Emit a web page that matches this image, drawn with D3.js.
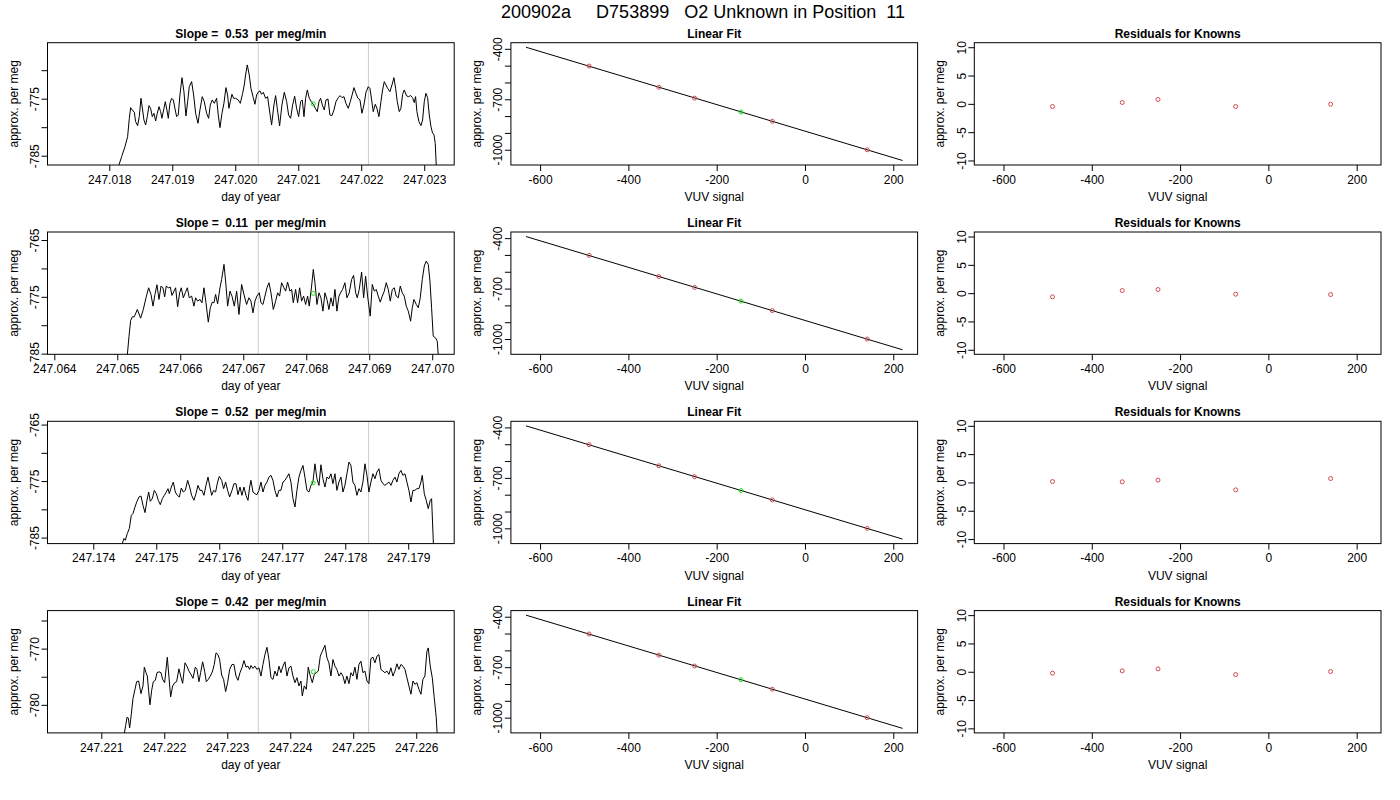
<!DOCTYPE html>
<html lang="en">
<head>
<meta charset="utf-8">
<title>O2 Unknown in Position 11</title>
<script src="https://d3js.org/d3.v7.min.js"></script>
<style>
  body { margin: 0; background: #fff; }
  text { font-family: "Liberation Sans", Arial, Helvetica, sans-serif; white-space: pre; }
</style>
</head>
<body>
<svg id="chart"></svg>
<script>
// ---- data ----
const mainTitle = "200902a     D753899   O2 Unknown in Position  11";
const slopes = ["0.53", "0.11", "0.52", "0.42"];

// left column: approx. per meg against day of year, one trace per row
const trace1 = [[247.018125,-789],[247.018154,-786.6],[247.018196,-785.17],[247.018249,-783.41],[247.018291,-781.66],[247.018318,-778.44],[247.018339,-776.57],[247.018365,-776.98],[247.018397,-777.39],[247.018418,-779.03],[247.018450,-779.73],[247.018476,-778.15],[247.018503,-774.93],[247.018529,-776.98],[247.018550,-778.73],[247.018577,-779.61],[247.018603,-778.15],[247.018630,-776.22],[247.018656,-776.69],[247.018683,-778.15],[247.018709,-777.56],[247.018736,-778.91],[247.018762,-777.56],[247.018789,-776.39],[247.018815,-777.27],[247.018836,-778.44],[247.018868,-776.69],[247.018889,-775.52],[247.018915,-776.98],[247.018937,-778.44],[247.018963,-775.81],[247.018990,-774.93],[247.019016,-775.22],[247.019042,-776.69],[247.019069,-778.15],[247.019095,-777.86],[247.019122,-774.35],[247.019154,-771.31],[247.019185,-773.76],[247.019217,-778.03],[247.019244,-775.52],[247.019270,-772.89],[247.019307,-772.01],[247.019339,-774.35],[247.019371,-777.56],[247.019408,-779.32],[247.019439,-776.98],[247.019476,-774.64],[247.019508,-775.52],[247.019545,-777.56],[247.019577,-778.44],[247.019603,-776.10],[247.019635,-775.22],[247.019667,-775.81],[247.019704,-774.93],[247.019730,-777.86],[247.019757,-780.08],[247.019789,-777.56],[247.019820,-775.81],[247.019852,-773.06],[247.019878,-774.35],[247.019900,-776.69],[247.019921,-775.52],[247.019947,-774.23],[247.019974,-774.93],[247.020005,-774.93],[247.020048,-775.22],[247.020080,-775.81],[247.020117,-774.06],[247.020143,-772.59],[247.020164,-770.84],[247.020191,-769.08],[247.020222,-770.84],[247.020249,-773.18],[247.020286,-774.82],[247.020312,-775.98],[247.020339,-774.35],[247.020371,-773.76],[247.020392,-773.65],[247.020418,-774.23],[247.020445,-773.88],[247.020482,-774.93],[247.020513,-774.64],[247.020550,-777.56],[247.020577,-779.61],[247.020614,-776.10],[247.020641,-774.46],[247.020667,-776.69],[247.020704,-779.79],[247.020741,-776.10],[247.020779,-773.88],[247.020816,-775.52],[247.020847,-777.86],[247.020879,-778.44],[247.020911,-776.10],[247.020943,-774.58],[247.020974,-776.69],[247.021006,-778.15],[247.021038,-775.52],[247.021064,-775.22],[247.021091,-778.15],[247.021117,-774.93],[247.021144,-773.47],[247.021175,-774.93],[247.021207,-775.52],[247.021239,-775.98],[247.021271,-776.69],[247.021302,-777.27],[247.021329,-775.52],[247.021355,-774.93],[247.021382,-776.10],[247.021413,-776.98],[247.021440,-775.22],[247.021472,-775.05],[247.021503,-777.86],[247.021535,-777.97],[247.021567,-776.98],[247.021599,-775.52],[247.021636,-774.82],[247.021662,-774.46],[247.021694,-774.82],[247.021726,-774.64],[247.021757,-775.81],[247.021794,-776.69],[247.021826,-775.52],[247.021858,-774.23],[247.021884,-773.06],[247.021916,-774.06],[247.021948,-774.93],[247.021980,-775.22],[247.022011,-777.56],[247.022043,-776.10],[247.022075,-773.88],[247.022112,-772.89],[247.022138,-773.18],[247.022165,-775.22],[247.022191,-777.27],[247.022223,-775.98],[247.022249,-776.69],[247.022281,-778.15],[247.022313,-775.52],[247.022339,-773.47],[247.022366,-772.01],[247.022392,-772.59],[247.022419,-773.18],[247.022456,-773.76],[247.022488,-772.59],[247.022519,-771.31],[247.022546,-773.18],[247.022572,-775.52],[247.022604,-777.27],[247.022630,-776.69],[247.022657,-774.23],[247.022683,-773.47],[247.022720,-774.52],[247.022752,-774.64],[247.022784,-774.46],[247.022816,-774.82],[247.022842,-775.69],[247.022863,-774.64],[247.022884,-777.27],[247.022916,-779.03],[247.022948,-779.73],[247.022974,-778.73],[247.023001,-775.52],[247.023027,-774.06],[247.023054,-774.82],[247.023080,-777.86],[247.023107,-779.90],[247.023133,-781.07],[247.023154,-781.25],[247.023175,-782.83],[247.023191,-786.63],[247.023205,-789]];

const trace2 = [[247.065150,-787],[247.065159,-785.3],[247.065186,-781.93],[247.065212,-779.17],[247.065239,-778.52],[247.065270,-778.52],[247.065318,-777.23],[247.065371,-778.76],[247.065413,-777.23],[247.065456,-775.17],[247.065498,-773.41],[247.065535,-774.58],[247.065567,-776.64],[247.065598,-774.58],[247.065630,-772.88],[247.065662,-775.46],[247.065694,-773.11],[247.065725,-773.41],[247.065752,-775.00],[247.065778,-773.11],[247.065810,-773.41],[247.065842,-773.29],[247.065868,-774.76],[247.065900,-774.00],[247.065926,-773.41],[247.065958,-776.76],[247.065990,-774.29],[247.066016,-773.41],[247.066048,-775.17],[247.066080,-774.29],[247.066112,-773.41],[247.066143,-775.17],[247.066180,-774.88],[247.066217,-776.64],[247.066244,-775.17],[247.066276,-775.76],[247.066313,-775.46],[247.066344,-776.05],[247.066376,-773.41],[247.066408,-776.05],[247.066445,-779.46],[247.066477,-776.93],[247.066508,-775.94],[247.066535,-776.05],[247.066561,-774.58],[247.066593,-776.23],[247.066630,-773.41],[247.066657,-771.94],[247.066694,-769.29],[247.066720,-772.23],[247.066752,-776.64],[247.066789,-774.00],[247.066821,-774.88],[247.066858,-776.64],[247.066895,-774.00],[247.066932,-778.11],[247.066974,-772.82],[247.067011,-774.58],[247.067053,-776.35],[247.067090,-775.17],[247.067122,-775.76],[247.067154,-777.82],[247.067186,-775.76],[247.067217,-774.88],[247.067255,-774.29],[247.067281,-776.05],[247.067313,-776.35],[247.067344,-774.88],[247.067376,-773.41],[247.067408,-772.52],[247.067440,-774.29],[247.067477,-777.23],[247.067514,-775.76],[247.067546,-774.29],[247.067577,-774.88],[247.067609,-772.52],[247.067646,-773.41],[247.067673,-774.00],[247.067704,-772.41],[247.067741,-774.00],[247.067768,-773.70],[247.067794,-776.05],[247.067831,-773.70],[247.067863,-776.05],[247.067895,-773.41],[247.067926,-775.76],[247.067958,-774.88],[247.067990,-776.35],[247.068022,-774.88],[247.068048,-776.64],[247.068085,-773.11],[247.068112,-770.17],[247.068138,-772.52],[247.068170,-776.35],[247.068202,-774.29],[247.068233,-775.17],[247.068265,-777.52],[247.068297,-774.29],[247.068329,-775.46],[247.068360,-777.23],[247.068392,-775.17],[247.068424,-776.64],[247.068456,-773.70],[247.068487,-777.52],[247.068519,-774.88],[247.068551,-774.17],[247.068577,-773.70],[247.068614,-772.52],[247.068646,-775.17],[247.068683,-774.29],[247.068720,-771.94],[247.068752,-771.23],[247.068784,-774.29],[247.068810,-775.17],[247.068842,-773.70],[247.068879,-770.64],[247.068911,-775.17],[247.068942,-771.35],[247.068974,-774.88],[247.069016,-778.40],[247.069048,-772.82],[247.069080,-774.00],[247.069112,-773.70],[247.069143,-774.88],[247.069175,-775.94],[247.069207,-774.88],[247.069239,-774.00],[247.069270,-772.52],[247.069302,-773.70],[247.069334,-775.76],[247.069366,-773.70],[247.069397,-773.41],[247.069429,-774.88],[247.069461,-775.17],[247.069493,-773.11],[247.069524,-774.29],[247.069556,-774.88],[247.069588,-776.64],[247.069620,-777.52],[247.069657,-779.29],[247.069683,-776.93],[247.069710,-775.46],[247.069747,-776.35],[247.069779,-776.93],[247.069810,-775.17],[247.069842,-771.94],[247.069874,-769.58],[247.069905,-768.70],[247.069937,-769.29],[247.069964,-772.23],[247.069990,-776.93],[247.070016,-781.93],[247.070053,-782.23],[247.070080,-782.81],[247.070096,-785.3],[247.070105,-787]];

const trace3 = [[247.174440,-788],[247.174461,-786.04],[247.174487,-785.16],[247.174508,-785.46],[247.174540,-784.28],[247.174572,-783.40],[247.174604,-781.05],[247.174630,-780.75],[247.174662,-779.58],[247.174694,-778.58],[247.174725,-777.81],[247.174757,-777.64],[247.174789,-779.28],[247.174821,-780.58],[247.174852,-778.40],[247.174879,-776.93],[247.174905,-778.58],[247.174937,-778.11],[247.174969,-776.64],[247.175001,-777.23],[247.175032,-778.40],[247.175064,-779.17],[247.175096,-778.11],[247.175128,-777.52],[247.175154,-777.05],[247.175186,-776.34],[247.175207,-777.23],[247.175239,-776.05],[247.175270,-775.17],[247.175302,-776.93],[247.175334,-777.52],[247.175366,-777.81],[247.175397,-776.23],[247.175429,-776.93],[247.175461,-776.64],[247.175498,-774.87],[247.175530,-776.05],[247.175561,-777.52],[247.175598,-778.40],[247.175630,-777.23],[247.175662,-775.76],[247.175694,-776.64],[247.175725,-776.64],[247.175757,-777.52],[247.175789,-775.76],[247.175821,-774.29],[247.175852,-776.05],[247.175879,-777.52],[247.175911,-776.64],[247.175942,-776.93],[247.175974,-775.17],[247.176001,-774.17],[247.176038,-774.87],[247.176069,-776.34],[247.176101,-775.17],[247.176133,-776.64],[247.176165,-777.81],[247.176202,-776.64],[247.176233,-775.46],[247.176265,-775.46],[247.176297,-777.40],[247.176329,-776.05],[247.176360,-777.52],[247.176392,-776.05],[247.176424,-777.52],[247.176456,-778.40],[247.176482,-776.05],[247.176503,-774.87],[247.176535,-776.93],[247.176567,-777.23],[247.176598,-777.40],[247.176630,-776.64],[247.176662,-775.17],[247.176694,-776.93],[247.176725,-775.76],[247.176757,-775.17],[247.176789,-774.29],[247.176821,-773.99],[247.176852,-774.87],[247.176884,-776.64],[247.176916,-777.81],[247.176948,-776.64],[247.176979,-776.64],[247.177011,-775.17],[247.177043,-774.87],[247.177075,-774.29],[247.177106,-773.70],[247.177138,-775.17],[247.177170,-778.11],[247.177202,-779.58],[247.177233,-776.64],[247.177265,-774.29],[247.177297,-773.11],[247.177329,-772.23],[247.177360,-774.29],[247.177392,-776.64],[247.177424,-776.93],[247.177456,-775.76],[247.177487,-775.17],[247.177519,-771.94],[247.177551,-774.58],[247.177583,-775.76],[247.177614,-772.11],[247.177646,-774.58],[247.177678,-776.05],[247.177710,-774.29],[247.177741,-774.58],[247.177773,-773.70],[247.177805,-775.46],[247.177837,-773.70],[247.177868,-776.64],[247.177900,-775.17],[247.177932,-774.29],[247.177964,-776.93],[247.177995,-775.76],[247.178027,-773.70],[247.178059,-771.64],[247.178091,-772.23],[247.178122,-775.17],[247.178154,-775.76],[247.178186,-777.52],[247.178218,-776.34],[247.178249,-776.93],[247.178281,-775.17],[247.178313,-771.94],[247.178345,-773.99],[247.178376,-776.93],[247.178408,-775.17],[247.178440,-773.70],[247.178472,-774.58],[247.178503,-773.40],[247.178535,-772.82],[247.178567,-774.87],[247.178599,-775.46],[247.178630,-775.76],[247.178662,-775.46],[247.178694,-775.17],[247.178726,-775.76],[247.178757,-774.87],[247.178789,-774.29],[247.178821,-775.17],[247.178852,-773.70],[247.178884,-773.11],[247.178916,-773.99],[247.178948,-773.70],[247.178979,-775.17],[247.179011,-776.64],[247.179043,-778.70],[247.179075,-776.64],[247.179106,-776.64],[247.179138,-776.34],[247.179170,-776.34],[247.179202,-775.17],[247.179223,-773.99],[247.179255,-777.23],[247.179286,-778.40],[247.179318,-779.87],[247.179350,-778.40],[247.179371,-778.11],[247.179403,-787]];

const trace4 = [[247.221350,-787],[247.221366,-785.05],[247.221387,-783.70],[247.221408,-782.23],[247.221429,-782.35],[247.221450,-784.11],[247.221477,-781.64],[247.221503,-778.88],[247.221535,-777.23],[247.221561,-775.88],[247.221593,-775.76],[247.221630,-778.00],[247.221662,-776.64],[247.221683,-773.29],[247.221710,-774.29],[247.221731,-774.88],[247.221752,-777.52],[247.221773,-780.00],[247.221800,-777.41],[247.221826,-775.88],[247.221858,-775.64],[247.221884,-774.29],[247.221916,-774.12],[247.221948,-774.29],[247.221974,-775.47],[247.222006,-776.06],[247.222048,-771.53],[247.222075,-775.17],[247.222101,-778.58],[247.222133,-776.64],[247.222165,-776.06],[247.222196,-775.88],[247.222233,-773.59],[247.222260,-774.88],[247.222292,-776.17],[247.222329,-772.53],[247.222360,-773.12],[247.222392,-774.00],[247.222424,-774.59],[247.222456,-775.29],[247.222493,-773.29],[247.222519,-773.70],[247.222551,-775.88],[247.222577,-774.29],[247.222609,-772.35],[247.222641,-774.00],[247.222667,-775.88],[247.222699,-775.47],[247.222731,-774.88],[247.222762,-774.17],[247.222794,-772.82],[247.222821,-770.77],[247.222852,-771.06],[247.222879,-771.94],[247.222911,-774.70],[247.222942,-775.47],[247.222974,-777.64],[247.223006,-776.06],[247.223038,-773.70],[247.223075,-772.82],[247.223106,-772.82],[247.223138,-774.88],[247.223170,-775.64],[247.223202,-774.29],[247.223233,-773.41],[247.223265,-772.12],[247.223297,-773.29],[247.223329,-773.12],[247.223355,-773.70],[247.223376,-773.00],[247.223408,-773.53],[247.223440,-773.12],[247.223471,-773.70],[247.223503,-773.41],[247.223535,-774.88],[247.223567,-772.82],[247.223598,-771.06],[247.223630,-769.77],[247.223662,-771.94],[247.223694,-775.17],[247.223725,-775.47],[247.223757,-774.00],[247.223789,-774.88],[247.223821,-773.12],[247.223852,-774.29],[247.223884,-773.12],[247.223916,-772.35],[247.223948,-774.88],[247.223979,-773.41],[247.224011,-773.12],[247.224043,-774.88],[247.224075,-776.06],[247.224106,-775.17],[247.224138,-776.64],[247.224170,-775.76],[247.224191,-778.41],[247.224223,-776.64],[247.224255,-777.23],[247.224286,-773.29],[247.224318,-774.88],[247.224350,-776.06],[247.224382,-774.59],[247.224413,-774.29],[247.224445,-774.00],[247.224477,-771.35],[247.224509,-770.47],[247.224551,-769.41],[247.224583,-771.65],[247.224614,-772.53],[247.224646,-774.88],[247.224678,-771.94],[247.224710,-773.12],[247.224741,-773.70],[247.224773,-774.88],[247.224805,-774.29],[247.224837,-774.88],[247.224868,-776.23],[247.224900,-774.88],[247.224932,-776.23],[247.224964,-774.29],[247.224995,-774.88],[247.225027,-773.29],[247.225059,-775.47],[247.225091,-772.82],[247.225122,-772.23],[247.225154,-774.29],[247.225186,-774.00],[247.225218,-775.76],[247.225249,-776.23],[247.225281,-771.76],[247.225313,-771.53],[247.225345,-772.53],[247.225376,-771.35],[247.225408,-771.06],[247.225440,-773.70],[247.225472,-774.00],[247.225503,-774.29],[247.225535,-774.00],[247.225567,-774.59],[247.225598,-773.41],[247.225630,-774.88],[247.225662,-774.00],[247.225694,-772.70],[247.225725,-773.70],[247.225757,-772.82],[247.225789,-773.12],[247.225821,-773.70],[247.225852,-775.17],[247.225884,-776.64],[247.225916,-778.11],[247.225948,-775.76],[247.225979,-776.35],[247.226011,-776.06],[247.226043,-777.23],[247.226075,-778.11],[247.226106,-775.47],[247.226138,-774.88],[247.226170,-770.47],[247.226191,-769.88],[247.226223,-773.12],[247.226255,-775.17],[247.226286,-778.70],[247.226318,-782.23],[247.226339,-786.5]];

const traces = [trace1, trace2, trace3, trace4];

// plotted ranges of the left panels
const dayRange = [[247.017019, 247.023476], [247.063892, 247.070349], [247.173273, 247.179730], [247.220146, 247.226603]];
const megRange = [[-786.63, -765.18], [-785.12, -763.59], [-786.06, -764.42], [-784.99, -763.24]];
const dayTicks = [
  [247.018, 247.019, 247.020, 247.021, 247.022, 247.023],
  [247.064, 247.065, 247.066, 247.067, 247.068, 247.069, 247.070],
  [247.174, 247.175, 247.176, 247.177, 247.178, 247.179],
  [247.221, 247.222, 247.223, 247.224, 247.225, 247.226]
];
const megTicks = [
  [-785, -780, -775, -770],
  [-785, -780, -775, -770, -765],
  [-785, -780, -775, -770, -765],
  [-780, -775, -770, -765]
];
// grey vertical lines (integration window) and the green unknown marker
const windowDays = [[247.020365, 247.022114], [247.067238, 247.068990], [247.176619, 247.178371], [247.223492, 247.225244]];
const unknownDay = [247.021239, 247.068112, 247.177490, 247.224366];
const unknownMeg = [-775.9, -774.4, -775.3, -774.1];

// middle and right columns
const knownVUV = [-489, -331, -250, -74, 141];
const knownMeg = [-502.5, -628.4, -693.3, -830.8, -1000.2];
const unknownVUV = -145;
const fitLineVUV = [-632, 221];
const residuals = [
  [-0.47, 0.24, 0.77, -0.47, -0.06],
  [-0.65, 0.46, 0.64, -0.18, -0.25],
  [0.16, 0.11, 0.41, -1.31, 0.69],
  [-0.25, 0.16, 0.51, -0.50, 0.04]
];
const residualLim = [-10, 10];
const vuvTicks = [-600, -400, -200, 0, 200];
const fitTicks = [-1000, -900, -800, -700, -600, -500, -400];
const residualTicks = [-10, -5, 0, 5, 10];

// ---- layout ----
const W = 1400, H = 800;
const panelLeft = [47.5, 510.9, 974.3], panelWidth = 406.7;
const panelTop = [42.7, 232.0, 421.3, 610.6], panelHeight = 122.3;
const knownColor = "#d04a55", unknownColor = "#1ee01e";

const svg = d3.select("#chart").attr("width", W).attr("height", H);

function pad4(ext) {
  const d = (ext[1] - ext[0]) * 0.04;
  return [ext[0] - d, ext[1] + d];
}

function makePanel(col, row, xDom, yDom) {
  const left = panelLeft[col], top = panelTop[row];
  return {
    left: left, top: top, right: left + panelWidth, bottom: top + panelHeight,
    x: d3.scaleLinear().domain(xDom).range([left, left + panelWidth]),
    y: d3.scaleLinear().domain(yDom).range([top + panelHeight, top])
  };
}

// drop labels that would crowd the previous drawn one (like R's axis)
function thinLabels(g, scale) {
  const gap = 10;
  let last = null;
  g.selectAll(".tick").sort((a, b) => a - b).each(function(d) {
    const t = d3.select(this).select("text");
    const len = t.node().getComputedTextLength();
    const p = scale(d);
    if (last && Math.abs(p - last.p) < len / 2 + last.half + gap) t.remove();
    else last = {p: p, half: len / 2};
  });
}

function drawFrame(p, xTicks, xFmt, yTicks, title, xLab, yLab) {
  const gx = svg.append("g")
    .attr("transform", "translate(0," + p.bottom + ")")
    .call(d3.axisBottom(p.x).tickValues(xTicks).tickFormat(xFmt).tickSize(6));
  gx.attr("font-size", 12).attr("font-family", null);
  gx.select(".domain").remove();
  gx.selectAll("text").attr("y", 18.8).attr("dy", null).attr("fill", "#000");
  thinLabels(gx, p.x);

  const gy = svg.append("g")
    .attr("transform", "translate(" + p.left + ",0)")
    .call(d3.axisLeft(p.y).tickValues(yTicks).tickFormat(d => String(d)).tickSize(6));
  gy.attr("font-size", 12).attr("font-family", null);
  gy.select(".domain").remove();
  gy.selectAll("text")
    .attr("x", null).attr("dy", null).attr("fill", "#000")
    .attr("text-anchor", "middle")
    .attr("transform", "translate(-8.5,0) rotate(-90)");
  thinLabels(gy, p.y);

  svg.append("rect")
    .attr("x", p.left).attr("y", p.top)
    .attr("width", panelWidth).attr("height", panelHeight)
    .attr("fill", "none").attr("stroke", "#000").attr("stroke-width", 1);

  svg.append("text")
    .attr("x", (p.left + p.right) / 2).attr("y", p.top - 5)
    .attr("text-anchor", "middle").attr("font-size", 12).attr("font-weight", "bold")
    .text(title);
  svg.append("text")
    .attr("x", (p.left + p.right) / 2).attr("y", p.bottom + 36)
    .attr("text-anchor", "middle").attr("font-size", 12)
    .text(xLab);
  svg.append("text")
    .attr("transform", "translate(" + (p.left - 30) + "," + ((p.top + p.bottom) / 2) + ") rotate(-90)")
    .attr("text-anchor", "middle").attr("font-size", 12)
    .text(yLab);
}

// main title
svg.append("text")
  .attr("x", 703).attr("y", 18.3)
  .attr("text-anchor", "middle").attr("font-size", 18)
  .text(mainTitle);

// least squares line through the knowns
const mx = d3.mean(knownVUV), my = d3.mean(knownMeg);
const fitSlope = d3.sum(knownVUV, (v, i) => (v - mx) * (knownMeg[i] - my)) /
                 d3.sum(knownVUV, v => (v - mx) * (v - mx));
const fitAt = v => my + fitSlope * (v - mx);
const fitLine = fitLineVUV.map(v => [v, fitAt(v)]);
const vuvDom = pad4(d3.extent(fitLineVUV));
const fitDom = pad4(d3.extent(fitLine, d => d[1]));

traces.forEach(function(trace, r) {
  // 1) time series
  const p = makePanel(0, r, dayRange[r], megRange[r]);
  const clipId = "clip" + r;
  svg.append("clipPath").attr("id", clipId).append("rect")
    .attr("x", p.left).attr("y", p.top).attr("width", panelWidth).attr("height", panelHeight);
  const plot = svg.append("g").attr("clip-path", "url(#" + clipId + ")");

  plot.selectAll(".win").data(windowDays[r]).enter().append("line")
    .attr("x1", d => p.x(d)).attr("x2", d => p.x(d))
    .attr("y1", p.top).attr("y2", p.bottom)
    .attr("stroke", "#cccccc").attr("stroke-width", 1);

  plot.append("path").datum(trace)
    .attr("d", d3.line().x(d => p.x(d[0])).y(d => p.y(d[1])))
    .attr("fill", "none").attr("stroke", "#000").attr("stroke-width", 1);

  plot.append("circle")
    .attr("cx", p.x(unknownDay[r])).attr("cy", p.y(unknownMeg[r])).attr("r", 2)
    .attr("fill", "none").attr("stroke", unknownColor).attr("stroke-width", 1);

  drawFrame(p, dayTicks[r], d => d.toFixed(3), megTicks[r],
            "Slope =  " + slopes[r] + "  per meg/min", "day of year", "approx. per meg");

  // 2) linear fit
  const q = makePanel(1, r, vuvDom, fitDom);
  svg.append("path").datum(fitLine)
    .attr("d", d3.line().x(d => q.x(d[0])).y(d => q.y(d[1])))
    .attr("fill", "none").attr("stroke", "#000").attr("stroke-width", 1);
  svg.append("g").selectAll("circle").data(knownVUV).enter().append("circle")
    .attr("cx", d => q.x(d)).attr("cy", (d, i) => q.y(knownMeg[i])).attr("r", 2)
    .attr("fill", "none").attr("stroke", knownColor).attr("stroke-width", 1);
  svg.append("circle")
    .attr("cx", q.x(unknownVUV)).attr("cy", q.y(unknownMeg[r])).attr("r", 2)
    .attr("fill", "none").attr("stroke", unknownColor).attr("stroke-width", 1);
  drawFrame(q, vuvTicks, d => String(d), fitTicks, "Linear Fit", "VUV signal", "approx. per meg");

  // 3) residuals
  const s = makePanel(2, r, vuvDom, pad4(residualLim));
  svg.append("g").selectAll("circle").data(knownVUV).enter().append("circle")
    .attr("cx", d => s.x(d)).attr("cy", (d, i) => s.y(residuals[r][i])).attr("r", 2)
    .attr("fill", "none").attr("stroke", knownColor).attr("stroke-width", 1);
  drawFrame(s, vuvTicks, d => String(d), residualTicks, "Residuals for Knowns", "VUV signal", "approx. per meg");
});
</script>
</body>
</html>
